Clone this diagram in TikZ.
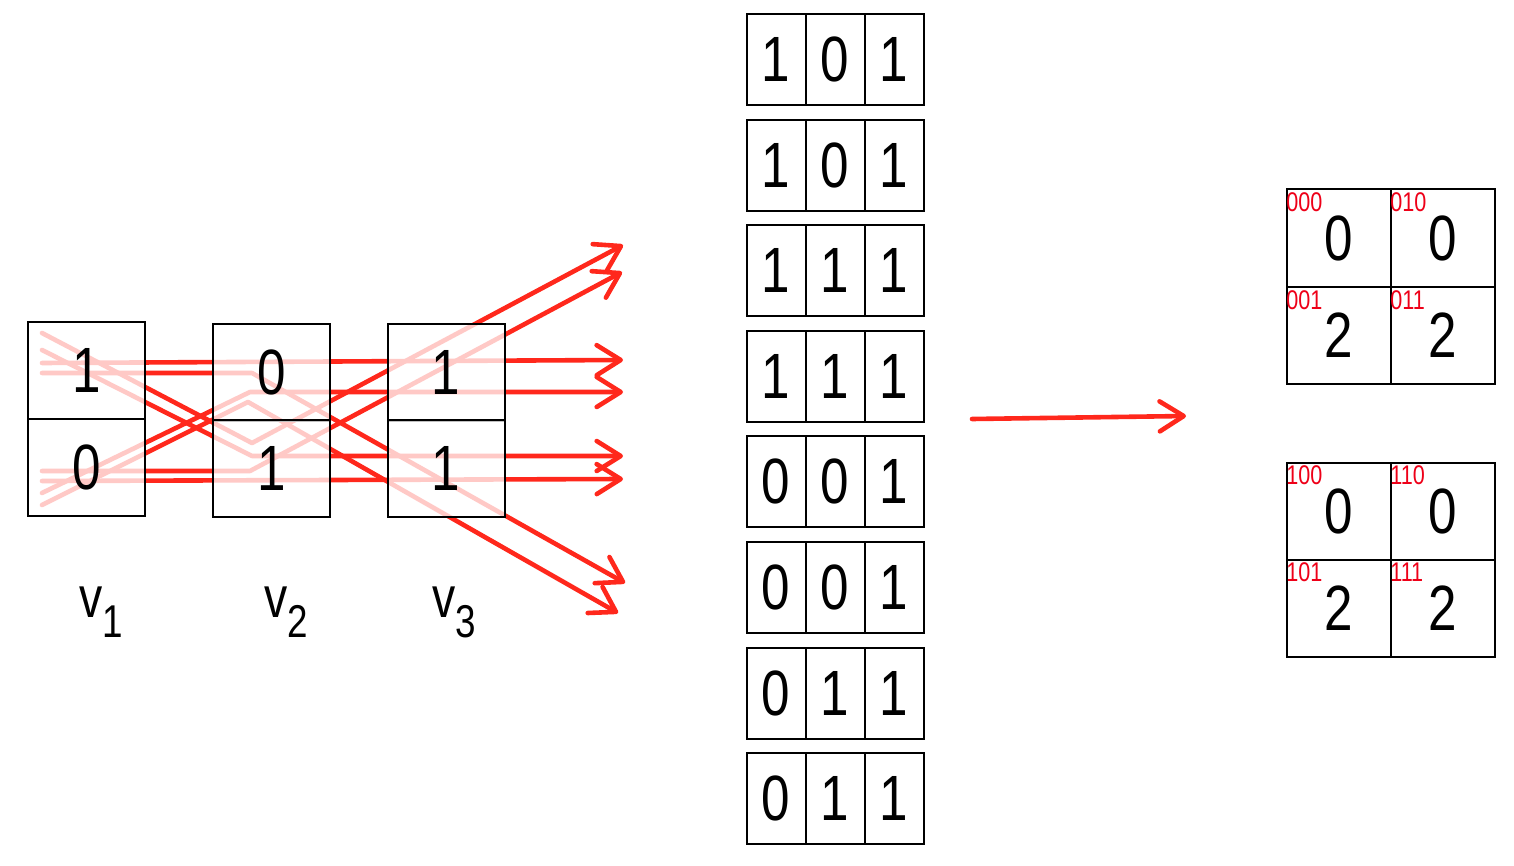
\documentclass[tikz,border=0pt]{standalone}
\usepackage{fontspec}
\setmainfont[FakeStretch=0.8]{Liberation Sans}
\usetikzlibrary{arrows.meta}

\definecolor{latred}{RGB}{255,40,28}
\definecolor{codered}{RGB}{238,0,24}

\tikzset{
  lattice/.style={draw=latred, line width=2.3pt, line join=round, line cap=round,
    -{Straight Barb[length=12pt,width=15pt,round]}},
  varcell/.style={draw, line width=1pt, fill=white, fill opacity=0.75, text opacity=1,
    minimum width=58.5pt, minimum height=48.5pt, inner sep=0pt, font=\fontsize{32}{32}\selectfont},
  tabcell/.style={draw, line width=1pt, minimum width=29.5pt, minimum height=45.5pt,
    inner sep=0pt, font=\fontsize{32}{32}\selectfont},
  gridcell/.style={draw, line width=1pt, minimum width=52pt, minimum height=48.5pt,
    inner sep=0pt, font=\fontsize{32}{32}\selectfont},
  codelabel/.style={anchor=north west, inner sep=0pt, text=codered, font=\fontsize{13.5}{13.5}\selectfont},
  varlabel/.style={inner sep=0pt, font=\fontsize{29}{29}\selectfont}
}

\begin{document}
\begin{tikzpicture}[x=0.5pt, y=-0.5pt]
  \useasboundingbox (0,0) rectangle (1514,866);

  % paths through the three variables
  \draw[lattice] (42,363) -- (623,360);
  \draw[lattice] (42,373) -- (252,373) -- (625,583);
  \draw[lattice] (42,333) -- (252,443) -- (623,245);
  \draw[lattice] (42,350) -- (252,456) -- (623,456);
  \draw[lattice] (42,493) -- (250,392) -- (623,392);
  \draw[lattice] (42,505) -- (248,402) -- (618,613);
  \draw[lattice] (42,471) -- (250,471) -- (622,272);
  \draw[lattice] (42,481) -- (623,479);

  % the variables
  \node[varcell] (v1t) at (86.5,370.5) {1};
  \node[varcell] (v1b) at (86.5,467.5) {0};
  \node[varcell] (v2t) at (271.5,372) {0};
  \node[varcell] (v2b) at (271.5,468.5) {1};
  \node[varcell] (v3t) at (446,372) {1};
  \node[varcell] (v3b) at (446,468.5) {1};

  \node[varlabel] (l1) at (101,612) {v\raisebox{-10pt}{\fontsize{23}{23}\selectfont 1}};
  \node[varlabel] (l2) at (286,612) {v\raisebox{-10pt}{\fontsize{23}{23}\selectfont 2}};
  \node[varlabel] (l3) at (454,612) {v\raisebox{-10pt}{\fontsize{23}{23}\selectfont 3}};

  % table of assignments
  \foreach \bits [count=\r] in {{1,0,1},{1,0,1},{1,1,1},{1,1,1},{0,0,1},{0,0,1},{0,1,1},{0,1,1}}
    \foreach \b [count=\c] in \bits
      \node[tabcell] (t\r\c) at ({717+59*\c},{59.5+105.6*(\r-1)}) {\b};

  \coordinate (from) at (972,419);
  \coordinate (to) at (1186,416);
  \draw[lattice] (from) -- (to);

  % resulting grids
  \foreach \code/\x/\y/\val in {000/1339/238/0, 010/1443/238/0, 001/1339/335.5/2, 011/1443/335.5/2,
                                100/1339/511/0, 110/1443/511/0, 101/1339/608/2, 111/1443/608/2} {
    \node[gridcell] (g\code) at (\x,\y) {\val};
    \node[codelabel] (c\code) at ([yshift=-2pt]g\code.north west) {\code};
  }
\end{tikzpicture}
\end{document}
